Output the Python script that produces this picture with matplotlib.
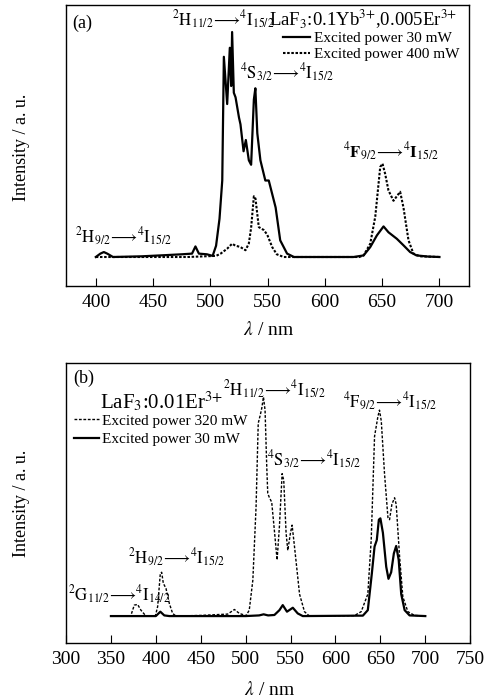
import matplotlib
matplotlib.use("Agg")
import matplotlib.pyplot as plt

plt.rcParams["font.family"] = ["Liberation Serif", "DejaVu Serif"]
plt.rcParams["mathtext.fontset"] = "stix"

# ---- panel (a): LaF3:0.1Yb,0.005Er ----
a_low_nm = [400, 404, 407, 410, 415, 440, 460, 475, 484, 487, 490, 497, 502, 505,
            508, 510.4, 511.8, 514.7, 517, 518.2, 519, 520.5, 522, 525, 526.3, 529,
            531, 533.6, 535.6, 538, 539.3, 541, 543.7, 548, 551, 554, 557, 561, 567,
            573, 600, 625, 633.8, 639.6, 645.4, 651.2, 655.5, 662.8, 668.6, 674.4,
            680, 690, 700]
a_low_int = [0, 0.015, 0.022, 0.015, 0, 0.003, 0.008, 0.012, 0.015, 0.047, 0.015, 0.012,
             0.005, 0.05, 0.17, 0.34, 0.89, 0.68, 0.93, 0.76, 1.0, 0.73, 0.71, 0.62,
             0.59, 0.47, 0.52, 0.43, 0.41, 0.70, 0.75, 0.55, 0.43, 0.34, 0.34, 0.28,
             0.22, 0.074, 0.015, 0, 0, 0, 0.007, 0.044, 0.096, 0.136, 0.11, 0.081,
             0.052, 0.022, 0.007, 0.002, 0]

a_high_nm = [400, 420, 480, 505, 509, 514.7, 519, 522, 526, 530.7, 533.6, 535.6, 538,
             539.4, 542.3, 546.6, 549.6, 554, 558, 564, 600, 630, 633.8, 639.6, 644,
             648.3, 650.3, 652.6, 655.5, 659.9, 662.8, 665.7, 668.6, 673, 677.3, 683,
             700]
a_high_int = [0, 0, 0, 0.005, 0.015, 0.037, 0.059, 0.05, 0.045, 0.03, 0.06, 0.13, 0.27,
              0.26, 0.133, 0.12, 0.10, 0.044, 0.012, 0, 0, 0, 0.007, 0.059, 0.18, 0.40,
              0.415, 0.37, 0.296, 0.25, 0.27, 0.29, 0.22, 0.074, 0.015, 0.003, 0]

# ---- panel (b): LaF3:0.01Er ----
b_high_nm = [350, 372, 376, 379.7, 383.4, 389, 399.4, 402, 405, 406.5, 408.3, 411.3,
             415, 418.7, 422.4, 450, 480, 487.5, 493, 500.5, 504, 508, 511.6, 514,
             516.4, 518, 519.8, 521.6, 523.5, 524.6, 526.5, 529, 532, 535, 537.6,
             540.6, 542.4, 545, 546.9, 549.9, 551.7, 554.3, 560, 565.5, 571, 621,
             628.6, 636, 639.8, 643.5, 647.2, 649, 651, 654.6, 658.4, 660.2, 662.8,
             665.8, 667.6, 671.4, 675, 680.6, 688, 700]
b_high_int = [0, 0, 0.05, 0.053, 0.027, 0, 0, 0.043, 0.195, 0.2, 0.15, 0.126, 0.058,
              0.012, 0, 0.003, 0.009, 0.03, 0.012, 0.002, 0.027, 0.164, 0.5, 0.88,
              0.92, 0.95, 1.0, 0.94, 0.68, 0.56, 0.54, 0.52, 0.39, 0.256, 0.41, 0.65,
              0.62, 0.38, 0.30, 0.38, 0.415, 0.32, 0.10, 0.02, 0, 0.002, 0.02, 0.1,
              0.35, 0.82, 0.91, 0.94, 0.89, 0.65, 0.45, 0.44, 0.51, 0.54, 0.51, 0.27,
              0.088, 0.02, 0.003, 0]

b_low_nm = [350, 400, 402, 405, 409.4, 415, 500, 515, 520, 525, 532, 537.6, 541.3,
            546, 552.5, 558, 563.6, 630.5, 636, 640.5, 643.5, 646, 648.3, 650, 652.8,
            656.5, 659, 662, 665, 667.6, 670.4, 673.2, 677, 682.5, 700]
b_low_int = [0, 0, 0.008, 0.02, 0.003, 0, 0, 0.003, 0.008, 0.003, 0.005, 0.027, 0.05,
             0.02, 0.038, 0.012, 0, 0.002, 0.027, 0.195, 0.317, 0.347, 0.44, 0.446,
             0.38, 0.225, 0.17, 0.2, 0.286, 0.32, 0.256, 0.1, 0.027, 0.003, 0]


def trans(u, l, sup_u, sub_u, sup_l, sub_l, bf=False):
    f = "mathbf" if bf else "mathrm"
    return (rf"$^{{{sup_u}}}\{f}{{{u}}}_{{{sub_u}}}\!{{\longrightarrow}}\!"
            rf"{{}}^{{{sup_l}}}\{f}{{{l}}}_{{{sub_l}}}$")


fig = plt.figure(figsize=(4.99, 7), dpi=100)

ax1 = fig.add_axes([0.1323, 0.5914, 0.808, 0.4014])
ax2 = fig.add_axes([0.1323, 0.0814, 0.810, 0.4000])

for ax in (ax1, ax2):
    ax.set_yticks([])
    ax.tick_params(axis="x", direction="in", length=6, width=0.8, labelsize=14,
                   top=False, pad=6)
    for s in ax.spines.values():
        s.set_linewidth(1.0)

TF = 12  # transition label size

# panel (a)
ax1.plot(a_low_nm, a_low_int, color="black", lw=1.6, label="Excited power 30 mW")
ax1.plot(a_high_nm, a_high_int, color="black", lw=1.5, ls=(0, (1.2, 0.8)),
         label="Excited power 400 mW")
ax1.set_xlim(374, 726)
ax1.set_ylim(-0.129, 1.12)
ax1.set_xticks([400, 450, 500, 550, 600, 650, 700])
ax1.legend(loc="upper left", bbox_to_anchor=(0.538, 0.906), frameon=False, fontsize=11,
           handlelength=1.8, handletextpad=0.25, labelspacing=0.15, borderpad=0,
           borderaxespad=0)

t = ax1.transAxes
ax1.text(0.015, 0.936, "(a)", transform=t, fontsize=13, va="center")
ax1.text(0.262, 0.947, trans("H", "I", 2, "11/2", 4, "15/2"), transform=t, fontsize=TF,
         va="center")
ax1.text(0.503, 0.947, r"LaF$_3$:0.1Yb$^{3{+}}$,0.005Er$^{3{+}}$", transform=t,
         fontsize=13.5, va="center")
ax1.text(0.432, 0.758, trans("S", "I", 4, "3/2", 4, "15/2"), transform=t, fontsize=TF,
         va="center")
ax1.text(0.687, 0.477, trans("F", "I", 4, "9/2", 4, "15/2", bf=True), transform=t,
         fontsize=TF, va="center")
ax1.text(0.022, 0.174, trans("H", "I", 2, "9/2", 4, "15/2"), transform=t, fontsize=TF,
         va="center")

# panel (b)
ax2.plot(b_high_nm, b_high_int, color="black", lw=1.0, ls=(0, (2, 1.2)),
         label="Excited power 320 mW")
ax2.plot(b_low_nm, b_low_int, color="black", lw=1.6, label="Excited power 30 mW")
ax2.set_xlim(300, 750)
ax2.set_ylim(-0.123, 1.155)
ax2.set_xticks([300, 350, 400, 450, 500, 550, 600, 650, 700, 750])
ax2.legend(loc="upper left", bbox_to_anchor=(0.02, 0.818), frameon=False, fontsize=11,
           handlelength=1.6, handletextpad=0.25, labelspacing=0.3, borderpad=0,
           borderaxespad=0)

t = ax2.transAxes
ax2.text(0.017, 0.946, "(b)", transform=t, fontsize=13, va="center")
ax2.text(0.084, 0.861, r"LaF$_3$:0.01Er$^{3{+}}$", transform=t, fontsize=15,
         va="center")
ax2.text(0.389, 0.904, trans("H", "I", 2, "11/2", 4, "15/2"), transform=t, fontsize=TF,
         va="center")
ax2.text(0.4975, 0.654, trans("S", "I", 4, "3/2", 4, "15/2"), transform=t, fontsize=TF,
         va="center")
ax2.text(0.686, 0.861, trans("F", "I", 4, "9/2", 4, "15/2"), transform=t, fontsize=TF,
         va="center")
ax2.text(0.153, 0.304, trans("H", "I", 2, "9/2", 4, "15/2"), transform=t, fontsize=TF,
         va="center")
ax2.text(0.005, 0.171, trans("G", "I", 2, "11/2", 4, "14/2"), transform=t, fontsize=TF,
         va="center")

# axis titles
for yc in (0.79, 0.281):
    fig.text(22 / 499, yc, "Intensity / a. u.", rotation=90, fontsize=13,
             ha="center", va="center")
fig.text(268 / 499, 1 - 330 / 700, r"$\lambda$ / nm", fontsize=14, ha="center",
         va="center")
fig.text(269 / 499, 1 - 690 / 700, r"$\lambda$ / nm", fontsize=14, ha="center",
         va="center")

fig.savefig("out.png", dpi=100)
